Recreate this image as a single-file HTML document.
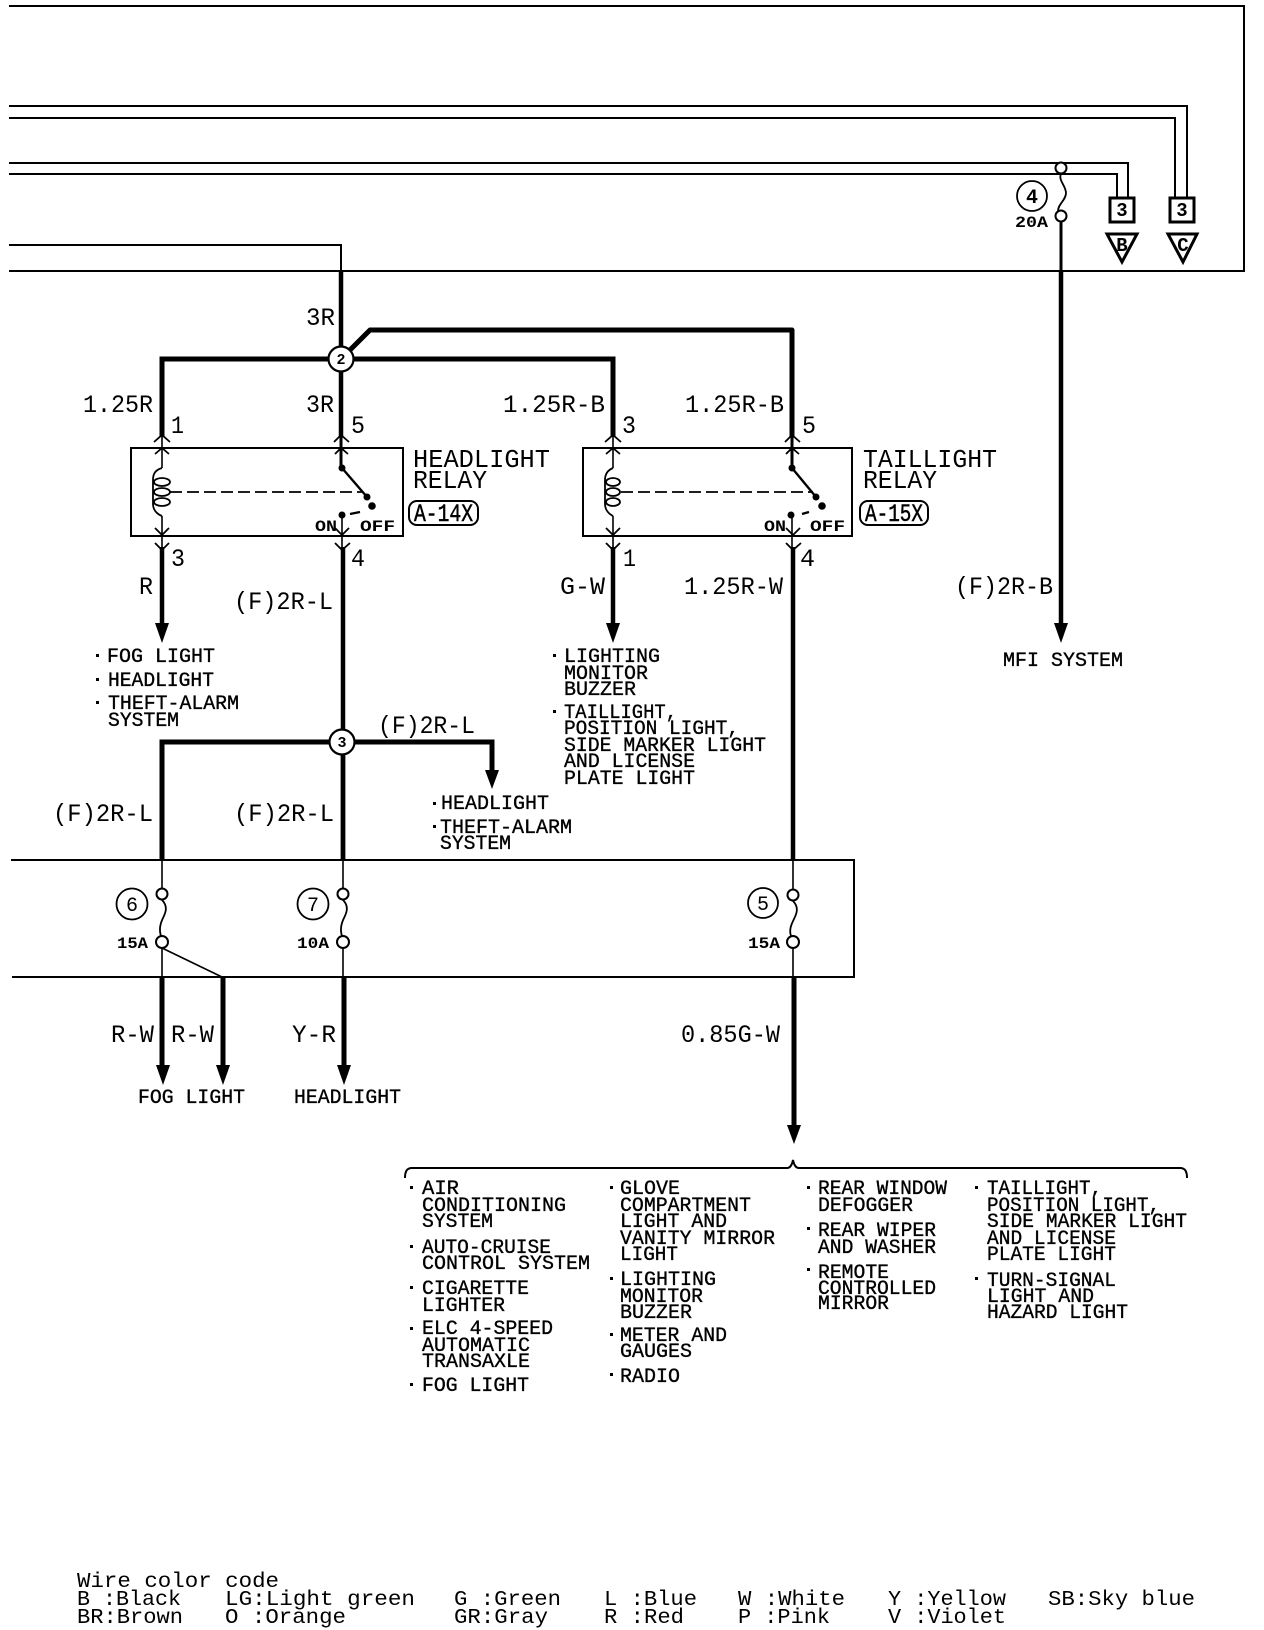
<!DOCTYPE html>
<html><head><meta charset="utf-8"><style>
html,body{margin:0;padding:0;background:#fff}
svg{display:block}
text{font-family:"Liberation Mono",monospace;fill:#000;stroke:none;dominant-baseline:alphabetic}
.l{font-size:20px;stroke:#000;stroke-width:.35px}
.w{font-size:25px}
.h{font-size:26px}
.s{font-size:16px;font-weight:bold}
.g{font-size:21px}
.c{text-anchor:middle}
</style></head><body>
<svg width="1264" height="1630" viewBox="0 0 1264 1630" xmlns="http://www.w3.org/2000/svg" fill="none" stroke="#000">
<!-- frames -->
<g stroke-width="2">
<path d="M9 6H1244V271H9"/>
<path d="M11 860H854V977H12"/>
<path d="M9 106H1187V197M9 118H1175V197M9 163H1128V197M9 174H1117V197"/>
<path d="M9 245H341V271"/>
<rect x="131" y="448" width="272" height="88"/>
<rect x="583" y="448" width="269" height="88"/>
</g>
<!-- thick wires -->
<g stroke-width="4.5">
<path d="M341 271V437M341 359V437"/>
<path d="M162 437V359H613V437" stroke-width="5"/>
<path d="M341 359L370 330H792V437" stroke-width="5" stroke-linejoin="round"/>
<path d="M162 547V625M343 547V859"/>
<path d="M613 547V625M793 547V859"/>
<path d="M1061 271V625"/>
<path d="M162 859V742H492V772" stroke-width="5"/>
<path d="M343 742V859"/>
<path d="M162 977V1066M223 977V1066M344 977V1066M794 977V1126" stroke-width="5"/>
</g>
<!-- thin wires -->
<g stroke-width="1.6">
<path d="M1061 222V271" stroke-width="3"/>
<path d="M162 437V468M162 516V547M341 437V468M342 515V547"/>
<path d="M613 437V468M613 516V547M792 437V468M792 515V547"/>
<path d="M162 860V889M162 948V977M162 948L222 977M343 860V889M343 948V977M793 860V890M793 948V977"/>
</g>
<path d="M341 437V468M792 437V468" stroke-width="3"/>
<!-- chevrons -->
<g stroke-width="1.8">
<path d="M154 442L162 435L170 442M155 454L162 448L169 454M155 528L162 535L169 528M155 543L162 550L169 543"/>
<path d="M334 442L341 435L349 442M335 454L341 448L348 454M335 528L342 535L349 528M335 543L342 550L350 543"/>
<path d="M605 442L613 435L621 442M606 454L613 448L620 454M606 528L613 535L620 528M606 543L613 550L620 543"/>
<path d="M785 442L792 435L800 442M786 454L792 448L799 454M786 528L793 535L800 528M786 543L793 550L801 543"/>
</g>
<!-- arrowheads -->
<g fill="#000" stroke="none">
<path d="M155 623H169L162 643Z"/><path d="M606 623H620L613 643Z"/><path d="M1054 623H1068L1061 643Z"/>
<path d="M485 770H499L492 789Z"/>
<path d="M156 1065H170L163 1085Z"/><path d="M216 1065H230L223 1085Z"/><path d="M337 1065H351L344 1085Z"/><path d="M787 1125H801L794 1144Z"/>
</g>
<!-- coils & switches -->
<g stroke-width="1.8">
<path d="M162 468C155 470 153 474 153 480V504C153 510 157 514 162 516"/>
<ellipse cx="162" cy="482" rx="8" ry="4"/><ellipse cx="162" cy="492" rx="8" ry="4"/><ellipse cx="162" cy="502" rx="8" ry="4"/>
<path d="M613 468C608 470 605 474 605 480V504C605 510 609 514 613 516"/>
<ellipse cx="613" cy="482" rx="7" ry="4"/><ellipse cx="613" cy="492" rx="7" ry="4"/><ellipse cx="613" cy="502" rx="7" ry="4"/>
<path d="M170 492H362" stroke-dasharray="12 5"/>
<path d="M621 492H813" stroke-dasharray="12 5"/>
<path d="M342 468L367 497" stroke-width="2.4"/><path d="M792 468L816 497" stroke-width="2.4"/>
<path d="M350 514L360 512M802 514L809 512" stroke-width="2.4"/>
</g>
<g fill="#000" stroke="none">
<circle cx="342" cy="468" r="3.5"/><circle cx="367" cy="497" r="3.5"/><circle cx="372" cy="506" r="3.8"/><circle cx="342" cy="515" r="3.5"/>
<circle cx="792" cy="468" r="3.5"/><circle cx="816" cy="497" r="3.5"/><circle cx="822" cy="506" r="3.8"/><circle cx="791" cy="515" r="3.5"/>
</g>
<!-- fuses -->
<g stroke-width="1.8" fill="none">
<path d="M1061 174C1058 180 1066 186 1066 193C1066 200 1058 204 1058 211"/>
<path d="M162 900C168 906 166 912 163 918C160 924 159 930 161 936"/>
<path d="M343 900C349 906 347 912 344 918C341 924 340 930 342 936"/>
<path d="M793 901C799 907 797 913 794 919C791 925 789 930 791 936"/>
</g>
<g stroke-width="2" fill="#fff">
<circle cx="1061" cy="168" r="5.5"/><circle cx="1061" cy="216" r="5.5"/>
<circle cx="162" cy="894" r="5.5"/><circle cx="162" cy="942" r="6"/>
<circle cx="343" cy="894" r="5.5"/><circle cx="343" cy="942" r="6"/>
<circle cx="793" cy="895" r="5.5"/><circle cx="793" cy="942" r="6"/>
</g>
<!-- fuse number circles -->
<g stroke-width="1.8" fill="#fff">
<circle cx="1032" cy="196" r="15"/><circle cx="132" cy="904" r="15.5"/><circle cx="313" cy="904" r="15.5"/><circle cx="763" cy="903" r="15"/>
</g>
<!-- nodes -->
<g stroke-width="2.2" fill="#fff"><circle cx="341" cy="359" r="12.5"/><circle cx="342" cy="742" r="12.5"/></g>
<!-- connectors -->
<g stroke-width="3" fill="#fff">
<rect x="1110" y="198" width="24" height="24"/><rect x="1170" y="198" width="24" height="24"/>
<path d="M1107 234H1137L1122 262Z"/><path d="M1168 234H1197L1183 262Z"/>
</g>
<!-- A- badges -->
<g stroke-width="2"><rect x="409" y="501" width="69" height="24" rx="8"/><rect x="860" y="501" width="68" height="24" rx="8"/></g>
<!-- brace -->
<path d="M405 1178C405 1171 407 1168 412 1168H787C790 1168 792 1165 793 1160C794 1165 796 1168 799 1168H1180C1185 1168 1187 1171 1187 1178" stroke-width="2"/>
<!-- dots -->
<g fill="#000" stroke="none">
<rect x="96" y="654" width="3" height="3"/><rect x="96" y="678" width="3" height="3"/><rect x="96" y="701" width="3" height="3"/>
<rect x="553" y="654" width="3" height="3"/><rect x="553" y="710" width="3" height="3"/>
<rect x="433" y="802" width="3" height="3"/><rect x="433" y="825" width="3" height="3"/>
<rect x="410" y="1186" width="3" height="3"/><rect x="410" y="1245" width="3" height="3"/><rect x="410" y="1286" width="3" height="3"/><rect x="410" y="1327" width="3" height="3"/><rect x="410" y="1383" width="3" height="3"/>
<rect x="610" y="1186" width="3" height="3"/><rect x="610" y="1277" width="3" height="3"/><rect x="610" y="1333" width="3" height="3"/><rect x="610" y="1373" width="3" height="3"/>
<rect x="807" y="1186" width="3" height="3"/><rect x="807" y="1227" width="3" height="3"/><rect x="807" y="1268" width="3" height="3"/>
<rect x="975" y="1186" width="3" height="3"/><rect x="975" y="1277" width="3" height="3"/>
</g>
<!-- numbers -->
<text class="c" x="1032" y="203" font-size="20" style="font-weight:bold">4</text>
<text class="c" x="132" y="911" font-size="20">6</text>
<text class="c" x="313" y="911" font-size="20">7</text>
<text class="c" x="763" y="910" font-size="20">5</text>
<text class="c" x="341" y="364" font-size="15" style="font-weight:bold">2</text>
<text class="c" x="342" y="747" font-size="15" style="font-weight:bold">3</text>
<text class="c" x="1122" y="216" font-size="19" style="font-weight:bold">3</text>
<text class="c" x="1182" y="216" font-size="19" style="font-weight:bold">3</text>
<text class="c" x="1122" y="251" font-size="19" style="font-weight:bold">B</text>
<text class="c" x="1183" y="251" font-size="19" style="font-weight:bold">C</text>
<text class="s" x="1015" y="227" textLength="33" lengthAdjust="spacingAndGlyphs">20A</text>
<text class="s" x="117" y="948" textLength="31" lengthAdjust="spacingAndGlyphs">15A</text>
<text class="s" x="297" y="948" textLength="32" lengthAdjust="spacingAndGlyphs">10A</text>
<text class="s" x="748" y="948" textLength="32" lengthAdjust="spacingAndGlyphs">15A</text>
<!-- wire labels -->
<g class="w">
<text class="w" x="306" y="325" textLength="29" lengthAdjust="spacingAndGlyphs">3R</text>
<text class="w" x="83" y="412" textLength="70" lengthAdjust="spacingAndGlyphs">1.25R</text>
<text class="w" x="306" y="412" textLength="28" lengthAdjust="spacingAndGlyphs">3R</text>
<text class="w" x="503" y="412" textLength="102" lengthAdjust="spacingAndGlyphs">1.25R-B</text>
<text class="w" x="685" y="412" textLength="99" lengthAdjust="spacingAndGlyphs">1.25R-B</text>
<text class="w" x="171" y="433" textLength="13" lengthAdjust="spacingAndGlyphs">1</text>
<text class="w" x="351" y="433" textLength="14" lengthAdjust="spacingAndGlyphs">5</text>
<text class="w" x="622" y="433" textLength="14" lengthAdjust="spacingAndGlyphs">3</text>
<text class="w" x="802" y="433" textLength="14" lengthAdjust="spacingAndGlyphs">5</text>
<text class="w" x="171" y="566" textLength="14" lengthAdjust="spacingAndGlyphs">3</text>
<text class="w" x="351" y="566" textLength="14" lengthAdjust="spacingAndGlyphs">4</text>
<text class="w" x="623" y="566" textLength="13" lengthAdjust="spacingAndGlyphs">1</text>
<text class="w" x="800" y="566" textLength="15" lengthAdjust="spacingAndGlyphs">4</text>
<text class="w" x="139" y="594" textLength="14" lengthAdjust="spacingAndGlyphs">R</text>
<text class="w" x="234" y="609" textLength="99" lengthAdjust="spacingAndGlyphs">(F)2R-L</text>
<text class="w" x="560" y="594" textLength="45" lengthAdjust="spacingAndGlyphs">G-W</text>
<text class="w" x="684" y="594" textLength="99" lengthAdjust="spacingAndGlyphs">1.25R-W</text>
<text class="w" x="955" y="594" textLength="98" lengthAdjust="spacingAndGlyphs">(F)2R-B</text>
<text class="w" x="378" y="733" textLength="97" lengthAdjust="spacingAndGlyphs">(F)2R-L</text>
<text class="w" x="53" y="821" textLength="100" lengthAdjust="spacingAndGlyphs">(F)2R-L</text>
<text class="w" x="234" y="821" textLength="100" lengthAdjust="spacingAndGlyphs">(F)2R-L</text>
<text class="w" x="111" y="1042" textLength="43" lengthAdjust="spacingAndGlyphs">R-W</text>
<text class="w" x="171" y="1042" textLength="43" lengthAdjust="spacingAndGlyphs">R-W</text>
<text class="w" x="292" y="1042" textLength="44" lengthAdjust="spacingAndGlyphs">Y-R</text>
<text class="w" x="681" y="1042" textLength="99" lengthAdjust="spacingAndGlyphs">0.85G-W</text>
</g>
<!-- relay labels -->
<text class="h" x="413" y="467" textLength="137" lengthAdjust="spacingAndGlyphs">HEADLIGHT</text>
<text class="h" x="413" y="488" textLength="74" lengthAdjust="spacingAndGlyphs">RELAY</text>
<text class="h" x="863" y="467" textLength="134" lengthAdjust="spacingAndGlyphs">TAILLIGHT</text>
<text class="h" x="863" y="488" textLength="74" lengthAdjust="spacingAndGlyphs">RELAY</text>
<text class="w" x="414" y="521" textLength="59" lengthAdjust="spacingAndGlyphs" style="stroke:#000;stroke-width:.5px">A-14X</text>
<text class="w" x="865" y="521" textLength="58" lengthAdjust="spacingAndGlyphs" style="stroke:#000;stroke-width:.5px">A-15X</text>
<text class="s" x="315" y="531" textLength="22" lengthAdjust="spacingAndGlyphs">ON</text>
<text class="s" x="360" y="531" textLength="35" lengthAdjust="spacingAndGlyphs">OFF</text>
<text class="s" x="764" y="531" textLength="22" lengthAdjust="spacingAndGlyphs">ON</text>
<text class="s" x="810" y="531" textLength="35" lengthAdjust="spacingAndGlyphs">OFF</text>
<!-- lists -->
<text class="l" x="107" y="662" textLength="108" lengthAdjust="spacingAndGlyphs">FOG LIGHT</text>
<text class="l" x="108" y="686" textLength="106" lengthAdjust="spacingAndGlyphs">HEADLIGHT</text>
<text class="l" x="108" y="709" textLength="131" lengthAdjust="spacingAndGlyphs">THEFT-ALARM</text>
<text class="l" x="108" y="726" textLength="71" lengthAdjust="spacingAndGlyphs">SYSTEM</text>
<text class="l" x="564" y="662" textLength="96" lengthAdjust="spacingAndGlyphs">LIGHTING</text>
<text class="l" x="564" y="679" textLength="84" lengthAdjust="spacingAndGlyphs">MONITOR</text>
<text class="l" x="564" y="695" textLength="72" lengthAdjust="spacingAndGlyphs">BUZZER</text>
<text class="l" x="564" y="718" textLength="113" lengthAdjust="spacingAndGlyphs">TAILLIGHT,</text>
<text class="l" x="564" y="734" textLength="175" lengthAdjust="spacingAndGlyphs">POSITION LIGHT,</text>
<text class="l" x="564" y="751" textLength="202" lengthAdjust="spacingAndGlyphs">SIDE MARKER LIGHT</text>
<text class="l" x="564" y="767" textLength="131" lengthAdjust="spacingAndGlyphs">AND LICENSE</text>
<text class="l" x="564" y="784" textLength="131" lengthAdjust="spacingAndGlyphs">PLATE LIGHT</text>
<text class="l" x="1003" y="666" textLength="120" lengthAdjust="spacingAndGlyphs">MFI SYSTEM</text>
<text class="l" x="441" y="809" textLength="108" lengthAdjust="spacingAndGlyphs">HEADLIGHT</text>
<text class="l" x="440" y="833" textLength="132" lengthAdjust="spacingAndGlyphs">THEFT-ALARM</text>
<text class="l" x="440" y="849" textLength="71" lengthAdjust="spacingAndGlyphs">SYSTEM</text>
<text class="l" x="138" y="1103" textLength="107" lengthAdjust="spacingAndGlyphs">FOG LIGHT</text>
<text class="l" x="294" y="1103" textLength="107" lengthAdjust="spacingAndGlyphs">HEADLIGHT</text>
<!-- col 1 -->
<text class="l" x="422" y="1194" textLength="37" lengthAdjust="spacingAndGlyphs">AIR</text>
<text class="l" x="422" y="1211" textLength="144" lengthAdjust="spacingAndGlyphs">CONDITIONING</text>
<text class="l" x="422" y="1227" textLength="71" lengthAdjust="spacingAndGlyphs">SYSTEM</text>
<text class="l" x="422" y="1253" textLength="129" lengthAdjust="spacingAndGlyphs">AUTO-CRUISE</text>
<text class="l" x="422" y="1269" textLength="168" lengthAdjust="spacingAndGlyphs">CONTROL SYSTEM</text>
<text class="l" x="422" y="1294" textLength="107" lengthAdjust="spacingAndGlyphs">CIGARETTE</text>
<text class="l" x="422" y="1311" textLength="83" lengthAdjust="spacingAndGlyphs">LIGHTER</text>
<text class="l" x="422" y="1334" textLength="131" lengthAdjust="spacingAndGlyphs">ELC 4-SPEED</text>
<text class="l" x="422" y="1351" textLength="108" lengthAdjust="spacingAndGlyphs">AUTOMATIC</text>
<text class="l" x="422" y="1367" textLength="108" lengthAdjust="spacingAndGlyphs">TRANSAXLE</text>
<text class="l" x="422" y="1391" textLength="107" lengthAdjust="spacingAndGlyphs">FOG LIGHT</text>
<!-- col 2 -->
<text class="l" x="620" y="1194" textLength="60" lengthAdjust="spacingAndGlyphs">GLOVE</text>
<text class="l" x="620" y="1211" textLength="131" lengthAdjust="spacingAndGlyphs">COMPARTMENT</text>
<text class="l" x="620" y="1227" textLength="107" lengthAdjust="spacingAndGlyphs">LIGHT AND</text>
<text class="l" x="620" y="1244" textLength="155" lengthAdjust="spacingAndGlyphs">VANITY MIRROR</text>
<text class="l" x="620" y="1260" textLength="58" lengthAdjust="spacingAndGlyphs">LIGHT</text>
<text class="l" x="620" y="1285" textLength="96" lengthAdjust="spacingAndGlyphs">LIGHTING</text>
<text class="l" x="620" y="1302" textLength="83" lengthAdjust="spacingAndGlyphs">MONITOR</text>
<text class="l" x="620" y="1318" textLength="72" lengthAdjust="spacingAndGlyphs">BUZZER</text>
<text class="l" x="620" y="1341" textLength="107" lengthAdjust="spacingAndGlyphs">METER AND</text>
<text class="l" x="620" y="1357" textLength="72" lengthAdjust="spacingAndGlyphs">GAUGES</text>
<text class="l" x="620" y="1382" textLength="60" lengthAdjust="spacingAndGlyphs">RADIO</text>
<!-- col 3 -->
<text class="l" x="818" y="1194" textLength="129" lengthAdjust="spacingAndGlyphs">REAR WINDOW</text>
<text class="l" x="818" y="1211" textLength="95" lengthAdjust="spacingAndGlyphs">DEFOGGER</text>
<text class="l" x="818" y="1236" textLength="118" lengthAdjust="spacingAndGlyphs">REAR WIPER</text>
<text class="l" x="818" y="1253" textLength="118" lengthAdjust="spacingAndGlyphs">AND WASHER</text>
<text class="l" x="818" y="1278" textLength="71" lengthAdjust="spacingAndGlyphs">REMOTE</text>
<text class="l" x="818" y="1294" textLength="118" lengthAdjust="spacingAndGlyphs">CONTROLLED</text>
<text class="l" x="818" y="1309" textLength="71" lengthAdjust="spacingAndGlyphs">MIRROR</text>
<!-- col 4 -->
<text class="l" x="987" y="1194" textLength="115" lengthAdjust="spacingAndGlyphs">TAILLIGHT,</text>
<text class="l" x="987" y="1211" textLength="173" lengthAdjust="spacingAndGlyphs">POSITION LIGHT,</text>
<text class="l" x="987" y="1227" textLength="200" lengthAdjust="spacingAndGlyphs">SIDE MARKER LIGHT</text>
<text class="l" x="987" y="1244" textLength="129" lengthAdjust="spacingAndGlyphs">AND LICENSE</text>
<text class="l" x="987" y="1260" textLength="129" lengthAdjust="spacingAndGlyphs">PLATE LIGHT</text>
<text class="l" x="987" y="1286" textLength="129" lengthAdjust="spacingAndGlyphs">TURN-SIGNAL</text>
<text class="l" x="987" y="1302" textLength="107" lengthAdjust="spacingAndGlyphs">LIGHT AND</text>
<text class="l" x="987" y="1318" textLength="141" lengthAdjust="spacingAndGlyphs">HAZARD LIGHT</text>
<!-- legend -->
<text class="g" x="77" y="1587" textLength="202" lengthAdjust="spacingAndGlyphs">Wire color code</text>
<text class="g" x="77" y="1605" textLength="104" lengthAdjust="spacingAndGlyphs">B :Black</text>
<text class="g" x="225" y="1605" textLength="190" lengthAdjust="spacingAndGlyphs">LG:Light green</text>
<text class="g" x="454" y="1605" textLength="107" lengthAdjust="spacingAndGlyphs">G :Green</text>
<text class="g" x="604" y="1605" textLength="93" lengthAdjust="spacingAndGlyphs">L :Blue</text>
<text class="g" x="738" y="1605" textLength="107" lengthAdjust="spacingAndGlyphs">W :White</text>
<text class="g" x="888" y="1605" textLength="118" lengthAdjust="spacingAndGlyphs">Y :Yellow</text>
<text class="g" x="1048" y="1605" textLength="147" lengthAdjust="spacingAndGlyphs">SB:Sky blue</text>
<text class="g" x="77" y="1623" textLength="106" lengthAdjust="spacingAndGlyphs">BR:Brown</text>
<text class="g" x="225" y="1623" textLength="121" lengthAdjust="spacingAndGlyphs">O :Orange</text>
<text class="g" x="454" y="1623" textLength="94" lengthAdjust="spacingAndGlyphs">GR:Gray</text>
<text class="g" x="604" y="1623" textLength="80" lengthAdjust="spacingAndGlyphs">R :Red</text>
<text class="g" x="738" y="1623" textLength="92" lengthAdjust="spacingAndGlyphs">P :Pink</text>
<text class="g" x="888" y="1623" textLength="118" lengthAdjust="spacingAndGlyphs">V :Violet</text>
</svg>
</body></html>
